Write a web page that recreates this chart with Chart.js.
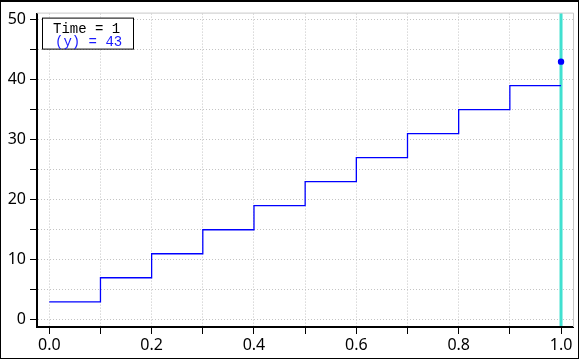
<!DOCTYPE html>
<html>
<head>
<meta charset="utf-8">
<script src="https://cdn.jsdelivr.net/npm/chart.js@4/dist/chart.umd.min.js"></script>
<style>
  html, body { margin: 0; padding: 0; background: #fff; }
  #wrap { width: 579px; height: 359px; position: relative; }
</style>
</head>
<body>
<div id="wrap"><canvas id="chart"></canvas></div>
<script>
// step signal: value held from each time until the next one
const times = [0, 0.1, 0.2, 0.3, 0.4, 0.5, 0.6, 0.7, 0.8, 0.9, 1.0];
const values = [3, 7, 11, 15, 19, 23, 27, 31, 35, 39, 39];

// cursor readout
const cursorTime = 1;
const cursorValue = 43;

const xTicks = [0, 0.1, 0.2, 0.3, 0.4, 0.5, 0.6, 0.7, 0.8, 0.9, 1.0];
const xLabels = [0, 0.2, 0.4, 0.6, 0.8, 1.0];
const yTicks = [0, 5, 10, 15, 20, 25, 30, 35, 40, 45, 50];
const yLabels = [0, 10, 20, 30, 40, 50];

const labelFont = { family: "'Segoe UI', 'Noto Sans', sans-serif", size: 16 };

// frame, cursor line and readout box
const decorPlugin = {
    id: 'decor',
    beforeDatasetsDraw(chart) {
        const { ctx, chartArea: a, scales } = chart;
        ctx.save();
        ctx.strokeStyle = '#c8c8c8';
        ctx.lineWidth = 1;
        ctx.beginPath();
        ctx.moveTo(a.left, a.top - 0.5);
        ctx.lineTo(a.right + 0.5, a.top - 0.5);
        ctx.lineTo(a.right + 0.5, a.bottom);
        ctx.stroke();
        // cursor line
        const cx = scales.x.getPixelForValue(cursorTime);
        ctx.strokeStyle = '#40e0d0';
        ctx.lineWidth = 3;
        ctx.beginPath();
        ctx.moveTo(cx, a.top);
        ctx.lineTo(cx, a.bottom - 1);
        ctx.stroke();
        ctx.restore();
    },
    afterDraw(chart) {
        const { ctx, chartArea: a, width, height } = chart;
        ctx.save();
        // readout box
        const bx = a.left + 5, by = a.top + 4;
        ctx.fillStyle = '#fff';
        ctx.fillRect(bx, by, 91, 31);
        ctx.strokeStyle = '#000';
        ctx.lineWidth = 1;
        ctx.strokeRect(bx + 0.5, by + 0.5, 91, 31);
        ctx.font = "14px 'Liberation Mono', 'Courier New', monospace";
        ctx.textBaseline = 'alphabetic';
        ctx.fillStyle = '#000';
        ctx.fillText('Time = ' + cursorTime, bx + 11, by + 15);
        ctx.fillStyle = '#1a1aff';
        ctx.fillText('(y) = ' + cursorValue, bx + 13, by + 28);
        // window frame
        ctx.strokeStyle = '#000';
        ctx.strokeRect(0.5, 0.5, width - 1, height - 1);
        ctx.fillStyle = '#000';
        ctx.fillRect(0, 0, width, 2);
        ctx.restore();
    }
};

new Chart(document.getElementById('chart'), {
    type: 'line',
    data: {
        datasets: [{
            data: times.map((t, i) => ({ x: t, y: values[i] })),
            borderColor: '#0000ff',
            borderWidth: 1.3,
            stepped: 'before',
            pointRadius: 0,
            fill: false,
            order: 2
        }, {
            data: [{ x: cursorTime, y: cursorValue }],
            showLine: false,
            pointRadius: 3.2,
            pointBackgroundColor: '#0000ff',
            pointBorderWidth: 0,
            order: 1
        }]
    },
    plugins: [decorPlugin],
    options: {
        responsive: true,
        maintainAspectRatio: false,
        animation: false,
        layout: { padding: { top: 10, right: 6, left: 0, bottom: 0 } },
        plugins: { legend: { display: false }, tooltip: { enabled: false } },
        scales: {
            x: {
                type: 'linear',
                min: -0.024,
                max: 1.0234,
                afterBuildTicks: scale => { scale.ticks = xTicks.map(v => ({ value: v })); },
                afterFit: scale => { scale.height = 32; },
                grid: {
                    color: '#c4c4c4',
                    tickColor: '#000',
                    tickLength: 7,
                    tickBorderDash: []
                },
                border: { color: '#000', width: 2, dash: [1, 2] },
                ticks: {
                    color: '#000',
                    font: labelFont,
                    padding: 2,
                    maxRotation: 0,
                    autoSkip: false,
                    callback: v => xLabels.some(l => Math.abs(l - v) < 1e-9) ? v.toFixed(1) : ''
                }
            },
            y: {
                min: -1.2,
                max: 51.0,
                afterBuildTicks: scale => { scale.ticks = yTicks.map(v => ({ value: v })); },
                afterFit: scale => { scale.width = 37; },
                grid: {
                    color: '#c4c4c4',
                    tickColor: '#000',
                    tickLength: 7,
                    tickBorderDash: []
                },
                border: { color: '#000', width: 2, dash: [1, 2] },
                ticks: {
                    color: '#000',
                    font: labelFont,
                    padding: 4,
                    autoSkip: false,
                    callback: v => yLabels.includes(v) ? String(v) : ''
                }
            }
        }
    }
});
</script>
</body>
</html>
